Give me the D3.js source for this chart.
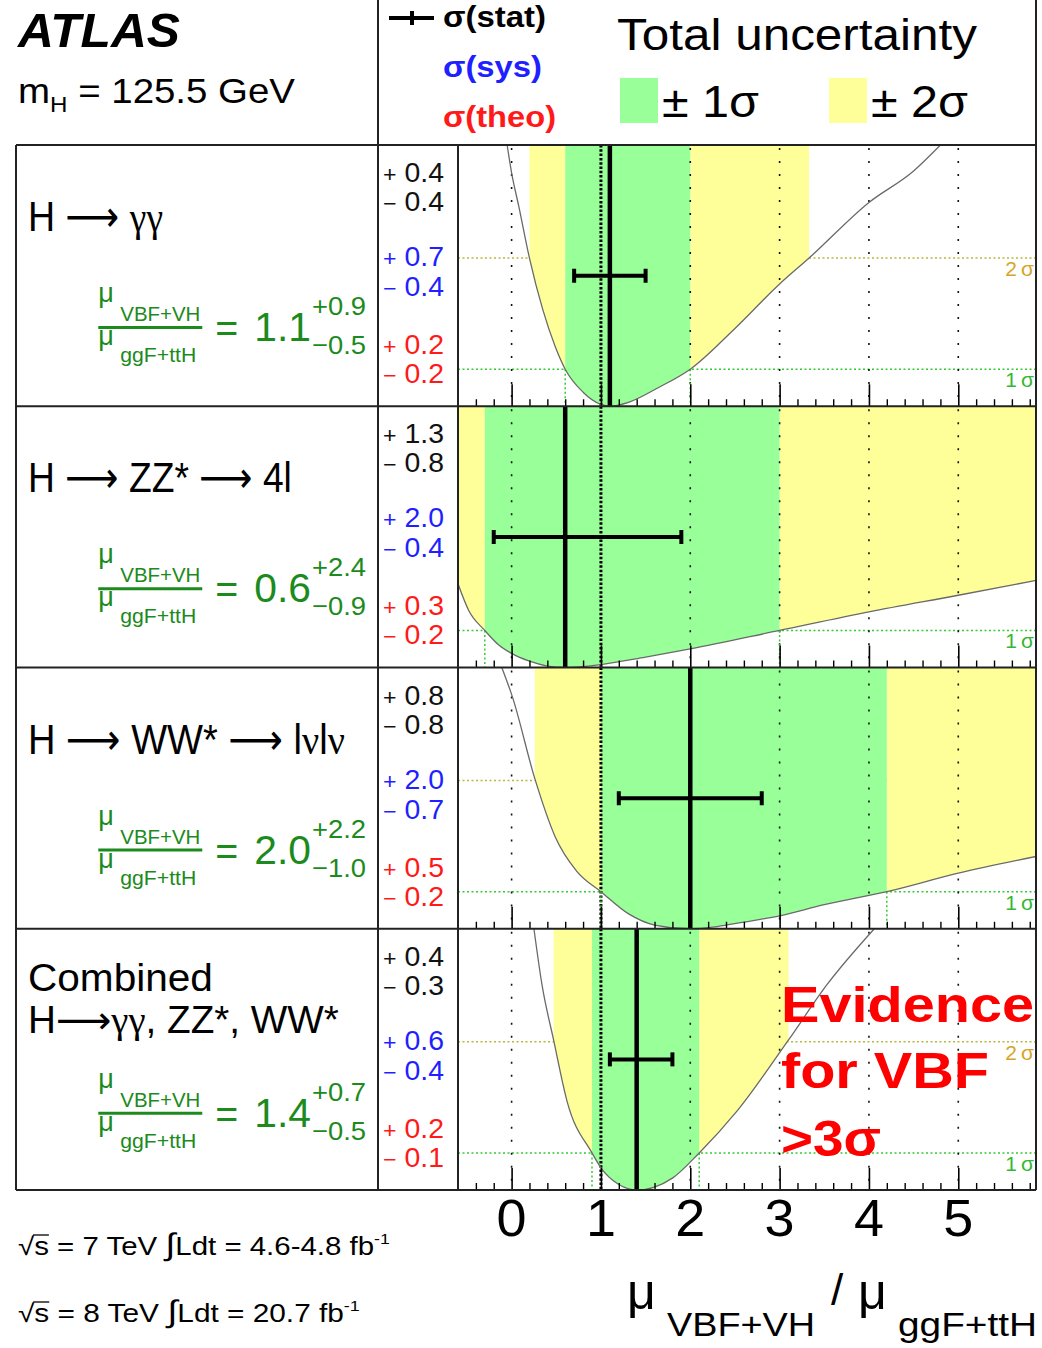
<!DOCTYPE html>
<html>
<head>
<meta charset="utf-8">
<script src="https://cdn.jsdelivr.net/npm/d3@7"></script>
<style>
  html, body { margin: 0; padding: 0; background: #fff; }
  svg { display: block; font-family: "Liberation Sans", Arial, Helvetica, sans-serif; }
</style>
</head>
<body>
<svg id="chart" width="1042" height="1348"></svg>
<script>
// ---------------- data ----------------
const channelTitles = [["H ⟶ γγ"], ["H ⟶ ZZ* ⟶ 4l"], ["H ⟶ WW* ⟶ lνlν"], ["Combined", "H⟶γγ, ZZ*, WW*"]];
const centralValues = [1.1, 0.6, 2.0, 1.4];
const totalUp   = [0.9, 2.4, 2.2, 0.7];
const totalDown = [0.5, 0.9, 1.0, 0.5];
const statUp    = [0.4, 1.3, 0.8, 0.4];
const statDown  = [0.4, 0.8, 0.8, 0.3];
const sysUp     = [0.7, 2.0, 2.0, 0.6];
const sysDown   = [0.4, 0.4, 0.7, 0.4];
const theoUp    = [0.2, 0.3, 0.5, 0.2];
const theoDown  = [0.2, 0.2, 0.2, 0.1];
// 2 sigma crossings of the likelihood curve (null: beyond the axis range)
const twoSigmaLow  = [0.2, null, 0.26, 0.47];
const twoSigmaHigh = [3.33, null, null, 3.1];

// -2 ln Lambda profile per channel: [mu, value]
const nllGammaGamma = [[-0.05,7.05],[0.0,6.3],[0.08,5.4],[0.2,4.0],[0.35,2.6],[0.49,1.6],[0.6,1.0],[0.8,0.38],[1.0,0.05],[1.1,0.0],[1.3,0.1],[1.64,0.5],[2.0,1.0],[2.5,2.1],[3.0,3.3],[3.33,4.0],[4.0,5.5],[4.5,6.35],[4.8,7.05]];
const nllZZ = [[-0.6,2.26],[-0.48,1.54],[-0.3,1.0],[-0.14,0.6],[0.0,0.38],[0.2,0.17],[0.4,0.04],[0.6,0.0],[1.0,0.08],[1.5,0.28],[2.0,0.5],[3.0,1.0],[4.0,1.5],[5.0,1.95],[5.87,2.35]];
const nllWW = [[-0.11,7.05],[0.01,6.25],[0.26,4.05],[0.49,2.47],[0.73,1.55],[1.0,1.0],[1.31,0.4],[1.6,0.1],[2.0,0.0],[2.3,0.06],[2.6,0.18],[3.0,0.35],[3.5,0.65],[4.2,1.0],[5.0,1.5],[5.87,1.95]];
const nllCombined = [[0.25,7.05],[0.34,5.54],[0.47,4.05],[0.62,2.4],[0.9,1.0],[1.0,0.6],[1.2,0.15],[1.4,0.0],[1.6,0.08],[1.8,0.32],[2.1,1.0],[2.52,2.12],[3.1,4.05],[3.53,5.54],[4.06,7.05]];
const nllCurves = [nllGammaGamma, nllZZ, nllWW, nllCombined];

const sigmaLevels = [1, 4];
const sigmaLabels = ["1\u2009σ", "2\u2009σ"];
const axisTicks = [0, 1, 2, 3, 4, 5];
const axisTickLabels = ["0", "1", "2", "3", "4", "5"];
const sqrtS = ["7", "8"];
const lumi = ["4.6-4.8", "20.7"];
const smValue = 1;

// ---------------- layout ----------------
const svg = d3.select("#chart");
const plotLeft = 458, plotRight = 1036, boxLeft = 16, colLeft = 378;
const top0 = 145, panelH = 261.25;
const x = d3.scaleLinear().domain([-0.6, 5.87]).range([plotLeft, plotRight]);
const yMax = 7.05;

const GREEN_FILL = "#99ff99", YELLOW_FILL = "#ffff99";
const FRAC_COLOR = "#1c8a1c";
const SIG1_LINE = "#33cc33", SIG2_LINE = "#b8b840";
const SIG1_TEXT = "#33b833", SIG2_TEXT = "#d6a528";
const BLUE = "#1f1fff", RED = "#ff1a1a";

const defs = svg.append("defs");

// stretch a single-run text to a given width
function fitText(sel, len) {
  sel.attr("textLength", len).attr("lengthAdjust", "spacingAndGlyphs");
  return sel;
}
// scale a multi-run text horizontally so it spans len pixels from (x0, y0)
function fitScale(sel, x0, y0, len) {
  sel.attr("x", 0).attr("y", 0);
  const w = sel.node().getComputedTextLength();
  const s = len / w;
  sel.attr("transform", `translate(${x0},${y0}) scale(${s},1)`);
  return s;
}

// text with greek letters set in a serif face and long arrows from DejaVu
function richText(t, str) {
  const parts = str.match(/[γν]+|⟶|[^γν⟶]+/g);
  parts.forEach(p => {
    const ts = t.append("tspan").text(p);
    if (/[γν]/.test(p)) ts.attr("font-family", "'Liberation Serif', 'DejaVu Serif', serif");
    if (p === "⟶") ts.attr("font-family", "'DejaVu Sans', sans-serif");
  });
}

// ---------------- header ----------------
fitText(svg.append("text").attr("x", 18).attr("y", 47)
  .attr("font-size", 48).attr("font-weight", "bold").attr("font-style", "italic").text("ATLAS"), 162);

{
  const t = svg.append("text").attr("font-size", 35);
  t.append("tspan").text("m");
  t.append("tspan").attr("font-size", 22).attr("dy", 9).text("H");
  t.append("tspan").attr("dy", -9).text(" = 125.5 GeV");
  fitScale(t, 18, 103, 277);
}

// stat legend marker
svg.append("line").attr("x1", 389).attr("x2", 434).attr("y1", 18).attr("y2", 18).attr("stroke", "#000").attr("stroke-width", 4);
svg.append("line").attr("x1", 412).attr("x2", 412).attr("y1", 11).attr("y2", 25).attr("stroke", "#000").attr("stroke-width", 4);
fitText(svg.append("text").attr("x", 443).attr("y", 27).attr("font-size", 30).attr("font-weight", "bold").attr("fill", "#000").text("σ(stat)"), 103);
fitText(svg.append("text").attr("x", 443).attr("y", 77).attr("font-size", 30).attr("font-weight", "bold").attr("fill", BLUE).text("σ(sys)"), 99);
fitText(svg.append("text").attr("x", 443).attr("y", 127).attr("font-size", 30).attr("font-weight", "bold").attr("fill", RED).text("σ(theo)"), 113);

fitText(svg.append("text").attr("x", 617).attr("y", 50).attr("font-size", 44).text("Total uncertainty"), 360);
svg.append("rect").attr("x", 620).attr("y", 78).attr("width", 38).attr("height", 45).attr("fill", GREEN_FILL);
fitText(svg.append("text").attr("x", 662).attr("y", 117).attr("font-size", 44).text("± 1σ"), 97);
svg.append("rect").attr("x", 829).attr("y", 78).attr("width", 38).attr("height", 45).attr("fill", YELLOW_FILL);
fitText(svg.append("text").attr("x", 871).attr("y", 117).attr("font-size", 44).text("± 2σ"), 97);

// ---------------- panels ----------------
const minorTicks = d3.range(-2, 30).map(k => +(k * 0.2).toFixed(1)).filter(v => !Number.isInteger(v));

centralValues.forEach((cv, i) => {
  const yTop = top0 + i * panelH, yBot = yTop + panelH;
  const y = d3.scaleLinear().domain([0, yMax]).range([yBot, yTop]);
  const g = svg.append("g");
  const curve = nllCurves[i];

  const clipId = "panel" + i;
  defs.append("clipPath").attr("id", clipId).append("rect")
    .attr("x", plotLeft).attr("y", yTop).attr("width", plotRight - plotLeft).attr("height", panelH);
  const pg = g.append("g").attr("clip-path", `url(#${clipId})`);

  // sigma reference levels and their labels
  sigmaLevels.forEach((lvl, k) => {
    pg.append("line").attr("x1", plotLeft).attr("x2", plotRight).attr("y1", y(lvl)).attr("y2", y(lvl))
      .attr("stroke", k === 0 ? SIG1_LINE : SIG2_LINE).attr("stroke-width", 1.6).attr("stroke-dasharray", "2,2.5");
    pg.append("text").attr("x", 1034).attr("y", y(lvl) + 18).attr("text-anchor", "end")
      .attr("font-size", 21).attr("fill", k === 0 ? SIG1_TEXT : SIG2_TEXT).text(sigmaLabels[k]);
  });

  // uncertainty bands: filled above the likelihood curve
  const lo1 = cv - totalDown[i], hi1 = cv + totalUp[i];
  const lo2 = twoSigmaLow[i] === null ? x.domain()[0] : twoSigmaLow[i];
  const hi2 = twoSigmaHigh[i] === null ? x.domain()[1] : twoSigmaHigh[i];
  const area = d3.area().x(d => x(d[0])).y0(yTop).y1(d => y(d[1])).curve(d3.curveMonotoneX);
  const bands = [
    { lo: lo2, hi: lo1, fill: YELLOW_FILL },
    { lo: hi1, hi: hi2, fill: YELLOW_FILL },
    { lo: lo1, hi: hi1, fill: GREEN_FILL }
  ];
  bands.forEach((b, k) => {
    if (b.hi <= b.lo) return;
    const id = `band${i}_${k}`;
    defs.append("clipPath").attr("id", id).append("rect")
      .attr("x", x(b.lo)).attr("y", yTop).attr("width", x(b.hi) - x(b.lo)).attr("height", panelH);
    pg.append("path").datum(curve).attr("d", area).attr("fill", b.fill).attr("clip-path", `url(#${id})`);
  });

  // vertical grid
  axisTicks.forEach(v => {
    if (v === smValue) return;
    pg.append("line").attr("x1", x(v)).attr("x2", x(v)).attr("y1", yTop + 3).attr("y2", yBot)
      .attr("stroke", "#111").attr("stroke-width", 1.6).attr("stroke-dasharray", "2,11");
  });
  // Standard Model expectation
  pg.append("line").attr("x1", x(smValue)).attr("x2", x(smValue)).attr("y1", yTop).attr("y2", yBot)
    .attr("stroke", "#000").attr("stroke-width", 3).attr("stroke-dasharray", "2.5,1.8");

  // 1 sigma drop lines
  [lo1, hi1].forEach(v => {
    if (v < x.domain()[0] || v > x.domain()[1]) return;
    pg.append("line").attr("x1", x(v)).attr("x2", x(v)).attr("y1", y(1)).attr("y2", yBot)
      .attr("stroke", SIG1_LINE).attr("stroke-width", 1.5).attr("stroke-dasharray", "2,2.5");
  });

  // likelihood curve
  pg.append("path").datum(curve)
    .attr("d", d3.line().x(d => x(d[0])).y(d => y(d[1])).curve(d3.curveMonotoneX))
    .attr("fill", "none").attr("stroke", "#6a6a6a").attr("stroke-width", 1.3);

  // central value and stat error bar
  const yBar = (yTop + yBot) / 2;
  const sLo = cv - statDown[i], sHi = cv + statUp[i];
  pg.append("line").attr("x1", x(sLo)).attr("x2", x(sHi)).attr("y1", yBar).attr("y2", yBar)
    .attr("stroke", "#000").attr("stroke-width", 4);
  [sLo, sHi].forEach(v => {
    pg.append("line").attr("x1", x(v)).attr("x2", x(v)).attr("y1", yBar - 7).attr("y2", yBar + 7)
      .attr("stroke", "#000").attr("stroke-width", 4);
  });
  pg.append("line").attr("x1", x(cv)).attr("x2", x(cv)).attr("y1", yTop).attr("y2", yBot)
    .attr("stroke", "#000").attr("stroke-width", 4.5);

  // ticks along the bottom edge, pointing up
  g.append("g").attr("transform", `translate(0,${yBot})`)
    .call(d3.axisTop(x).tickValues(axisTicks).tickSize(22).tickFormat(""))
    .call(a => a.select(".domain").remove())
    .call(a => a.selectAll("line").attr("stroke", "#000").attr("stroke-width", 1.6));
  g.append("g").attr("transform", `translate(0,${yBot})`)
    .call(d3.axisTop(x).tickValues(minorTicks).tickSize(7).tickFormat(""))
    .call(a => a.select(".domain").remove())
    .call(a => a.selectAll("line").attr("stroke", "#000").attr("stroke-width", 1.4));

  // uncertainty breakdown column
  const rows = [
    [statUp[i], statDown[i], "#111"],
    [sysUp[i], sysDown[i], BLUE],
    [theoUp[i], theoDown[i], RED]
  ];
  const rowY = [[37, 66], [121, 151], [209, 238]];
  rows.forEach((r, k) => {
    [["+", r[0]], ["−", r[1]]].forEach((s, j) => {
      const t = g.append("text").attr("fill", r[2]).attr("font-size", 27);
      t.append("tspan").attr("font-size", 22).text(s[0]);
      t.append("tspan").text(" " + s[1].toFixed(1));
      fitScale(t, 383, yTop + rowY[k][j], 61);
    });
  });

  // channel title
  const titleW = [[135], [264], [317], [185, 311]][i];
  const titleY = i < 3 ? [86] : [62, 104];
  const titleSize = i < 3 ? 43 : 38;
  channelTitles[i].forEach((line, k) => {
    const t = g.append("text").attr("font-size", titleSize);
    richText(t, line);
    fitScale(t, 28, yTop + titleY[k], titleW[k]);
  });

  // fraction mu_{VBF+VH}/mu_{ggF+ttH} = value^{+up}_{-down}
  const fg = g.append("g").attr("fill", FRAC_COLOR);
  const dy = i === 3 ? 2 : 0;
  fg.append("text").attr("x", 0).attr("y", yTop + 157 + dy).attr("font-size", 27).text("μ");
  fitText(fg.append("text").attr("x", 22).attr("y", yTop + 176 + dy).attr("font-size", 21).text("VBF+VH"), 80);
  fg.append("rect").attr("x", 0).attr("y", yTop + 181 + dy).attr("width", 104).attr("height", 3);
  fg.append("text").attr("x", 0).attr("y", yTop + 200 + dy).attr("font-size", 27).text("μ");
  fitText(fg.append("text").attr("x", 22).attr("y", yTop + 217 + dy).attr("font-size", 21).text("ggF+ttH"), 76);
  fitText(fg.append("text").attr("x", 117).attr("y", yTop + 197 + dy).attr("font-size", 40).text("="), 23);
  const val = fg.append("text").attr("x", 156).attr("y", yTop + 196 + dy).attr("font-size", 34).text(cv.toFixed(1));
  const vw = val.node().getComputedTextLength() * 1.2;
  val.attr("font-size", 40);
  fitText(val, vw);
  fitText(fg.append("text").attr("x", 156 + vw + 1).attr("y", yTop + 170 + dy).attr("font-size", 26).text("+" + totalUp[i].toFixed(1)), 54);
  fitText(fg.append("text").attr("x", 156 + vw + 1).attr("y", yTop + 209 + dy).attr("font-size", 26).text("−" + totalDown[i].toFixed(1)), 54);
  const bb = fg.node().getBBox();
  fg.attr("transform", `translate(${366 - (bb.x + bb.width)},0)`);
});

// ---------------- frames ----------------
const frame = svg.append("g").attr("stroke", "#222").attr("stroke-width", 2).attr("fill", "none");
for (let k = 0; k <= 4; k++) {
  const yy = top0 + k * panelH;
  frame.append("line").attr("x1", boxLeft).attr("x2", plotRight).attr("y1", yy).attr("y2", yy);
}
frame.append("line").attr("x1", boxLeft).attr("x2", boxLeft).attr("y1", top0).attr("y2", top0 + 4 * panelH);
frame.append("line").attr("x1", colLeft).attr("x2", colLeft).attr("y1", 0).attr("y2", top0 + 4 * panelH);
frame.append("line").attr("x1", plotLeft).attr("x2", plotLeft).attr("y1", top0).attr("y2", top0 + 4 * panelH);
frame.append("line").attr("x1", plotRight).attr("x2", plotRight).attr("y1", 0).attr("y2", top0 + 4 * panelH);

// ---------------- x axis labels and title ----------------
axisTicks.forEach((v, k) => {
  fitText(svg.append("text").attr("x", x(v)).attr("y", 1236).attr("text-anchor", "middle")
    .attr("font-size", 52).text(axisTickLabels[k]), 30);
});

svg.append("text").attr("x", 627).attr("y", 1309).attr("font-size", 50).text("μ");
fitText(svg.append("text").attr("x", 667).attr("y", 1336).attr("font-size", 34).text("VBF+VH"), 148);
svg.append("text").attr("x", 831).attr("y", 1305).attr("font-size", 44).text("/");
svg.append("text").attr("x", 858).attr("y", 1309).attr("font-size", 50).text("μ");
fitText(svg.append("text").attr("x", 898).attr("y", 1336).attr("font-size", 34).text("ggF+ttH"), 139);

// ---------------- luminosity lines ----------------
[[1255, 372], [1322, 342]].forEach((pos, k) => {
  const t = svg.append("text").attr("font-size", 25);
  t.append("tspan").text("√");
  t.append("tspan").text("s");
  t.append("tspan").text(` = ${sqrtS[k]} TeV `);
  t.append("tspan").attr("font-size", 31).text("∫");
  t.append("tspan").text(`Ldt = ${lumi[k]} fb`);
  t.append("tspan").attr("font-size", 15).attr("dy", -11).text("-1");
  const s = fitScale(t, 18, pos[0], pos[1]);
  try {
    const e = t.node().getExtentOfChar(1);
    svg.append("line").attr("x1", 18 + (e.x - 1) * s).attr("x2", 18 + (e.x + e.width) * s)
      .attr("y1", pos[0] - 20).attr("y2", pos[0] - 20)
      .attr("stroke", "#000").attr("stroke-width", 1.3);
  } catch (err) {}
});

// ---------------- annotation ----------------
const note = svg.append("g").attr("fill", "#ff0000").attr("font-weight", "bold").attr("font-size", 50);
fitText(note.append("text").attr("x", 781).attr("y", 1022).text("Evidence"), 253);
fitText(note.append("text").attr("x", 781).attr("y", 1088).text("for VBF"), 208);
fitText(note.append("text").attr("x", 781).attr("y", 1156).text(">3σ"), 100);
</script>
</body>
</html>
